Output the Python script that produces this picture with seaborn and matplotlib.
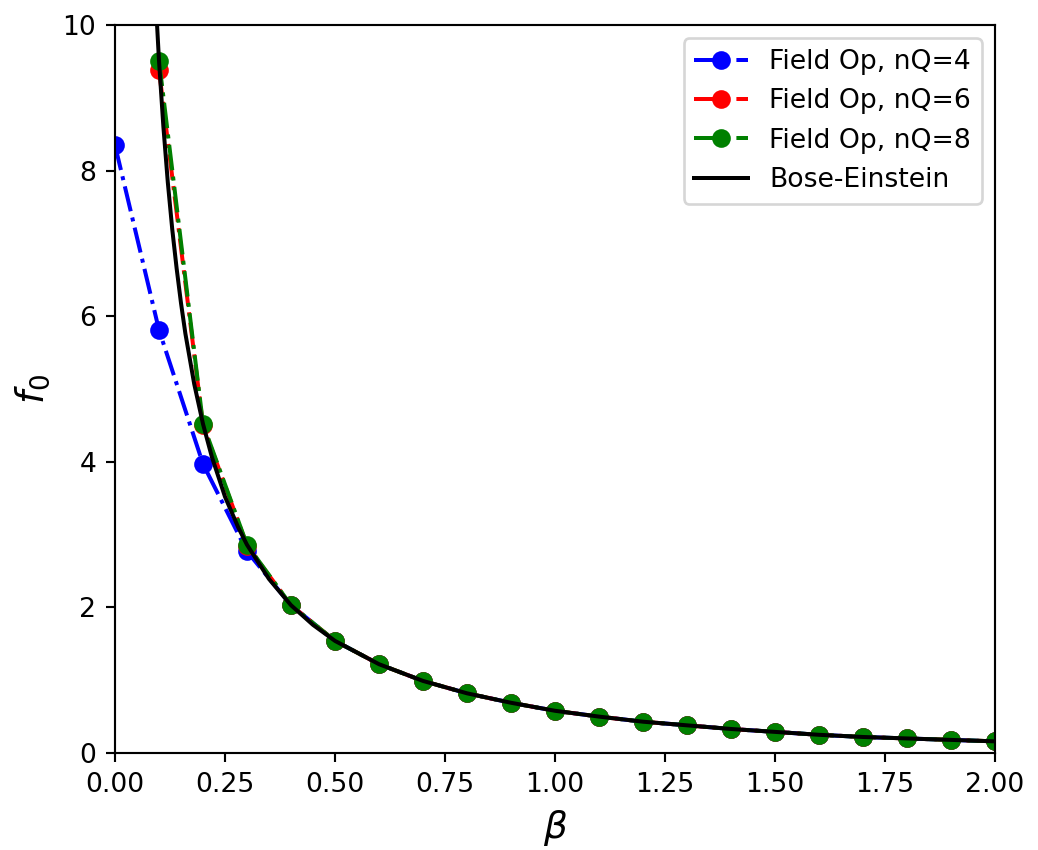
import matplotlib
matplotlib.use("Agg")
import matplotlib.pyplot as plt
import numpy as np
import pandas as pd
import seaborn as sns

# Field-operator estimates of the occupation f_0 on a beta grid
beta_nq4 = [0.0, 0.1, 0.2, 0.3, 0.4, 0.5, 0.6, 0.7, 0.8, 0.9, 1.0,
            1.1, 1.2, 1.3, 1.4, 1.5, 1.6, 1.7, 1.8, 1.9, 2.0]
f0_nq4 = [8.35, 5.81, 3.97, 2.77, 2.03, 1.54, 1.22, 0.99, 0.82, 0.69, 0.58,
          0.50, 0.43, 0.38, 0.33, 0.29, 0.25, 0.22, 0.20, 0.18, 0.16]

beta_nq6 = [0.1, 0.2, 0.3, 0.4, 0.5, 0.6, 0.7, 0.8, 0.9, 1.0,
            1.1, 1.2, 1.3, 1.4, 1.5, 1.6, 1.7, 1.8, 1.9, 2.0]
f0_nq6 = [9.38, 4.50, 2.85, 2.03, 1.54, 1.22, 0.99, 0.82, 0.69, 0.58,
          0.50, 0.43, 0.38, 0.33, 0.29, 0.25, 0.22, 0.20, 0.18, 0.16]

beta_nq8 = [0.1, 0.2, 0.3, 0.4, 0.5, 0.6, 0.7, 0.8, 0.9, 1.0,
            1.1, 1.2, 1.3, 1.4, 1.5, 1.6, 1.7, 1.8, 1.9, 2.0]
f0_nq8 = [9.51, 4.52, 2.86, 2.03, 1.54, 1.22, 0.99, 0.82, 0.69, 0.58,
          0.50, 0.43, 0.38, 0.33, 0.29, 0.25, 0.22, 0.20, 0.18, 0.16]

# Bose-Einstein reference occupation
beta_be = [0.08, 0.09, 0.10, 0.11, 0.12, 0.13, 0.14, 0.15, 0.16, 0.18,
           0.20, 0.22, 0.25, 0.28, 0.30, 0.35, 0.40, 0.45, 0.50, 0.60,
           0.70, 0.80, 0.90, 1.00, 1.10, 1.20, 1.30, 1.40, 1.50, 1.60,
           1.70, 1.80, 1.90, 2.00]
f0_be = [12.01, 10.62, 9.51, 8.60, 7.84, 7.20, 6.66, 6.18, 5.76, 5.07,
         4.52, 4.07, 3.52, 3.10, 2.86, 2.39, 2.03, 1.76, 1.54, 1.22,
         0.99, 0.82, 0.69, 0.58, 0.50, 0.43, 0.38, 0.33, 0.29, 0.25,
         0.22, 0.20, 0.18, 0.16]

series_labels = ["Field Op, nQ=4", "Field Op, nQ=6", "Field Op, nQ=8"]
series_colors = ["blue", "red", "green"]

W, H, DPI = 1038, 850, 192
fig = plt.figure(figsize=(W / DPI, H / DPI), dpi=DPI)
ax = fig.add_axes([115 / W, 97 / H, 880 / W, 728 / H])

series = [(beta_nq4, f0_nq4), (beta_nq6, f0_nq6), (beta_nq8, f0_nq8)]
for (bx, fy), lab, col in zip(series, series_labels, series_colors):
    df = pd.DataFrame({"beta": bx, "f0": fy})
    sns.lineplot(data=df, x="beta", y="f0", ax=ax, color=col, label=lab,
                 linestyle="-.", marker="o", markersize=6,
                 markeredgecolor=col, markeredgewidth=1.0, linewidth=1.5,
                 sort=False, estimator=None)

df_be = pd.DataFrame({"beta": beta_be, "f0": f0_be})
sns.lineplot(data=df_be, x="beta", y="f0", ax=ax, color="black",
             label="Bose-Einstein", linewidth=1.5, sort=False, estimator=None)

ax.set_xlim(0, 2)
ax.set_ylim(0, 10)
ax.set_xticks(np.arange(0, 2.01, 0.25))
ax.set_yticks([0, 2, 4, 6, 8, 10])
ax.set_xlabel(r"$\beta$", fontsize=14)
ax.set_ylabel(r"$f_0$", fontsize=14)
ax.legend(loc="upper right")

fig.savefig("out.png", dpi=DPI)
